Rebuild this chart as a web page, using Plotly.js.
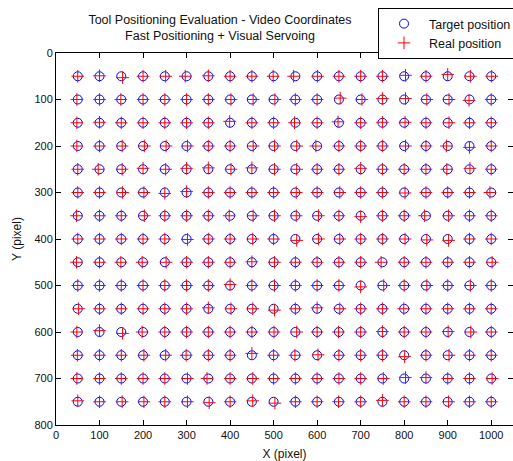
<!DOCTYPE html>
<html><head><meta charset="utf-8">
<script src="https://cdn.plot.ly/plotly-3.0.1.min.js"></script>
<style>html,body{margin:0;padding:0;background:#fff}#chart{width:513px;height:461px}</style>
</head><body><div id="chart"></div>
<script>
// Target grid (pixel coordinates)
const gridX = [50,100,150,200,250,300,350,400,450,500,550,600,650,700,750,800,850,900,950,1000];
const gridY = [50,100,150,200,250,300,350,400,450,500,550,600,650,700,750];

// Measured deviation of the real position from the target (pixels), one row per gridY
const devX = [
 [0,0,3,0,2,-3,0,0,0,-1,-4,1,0,0,0,3,0,0,2,1],
 [-2,0,-1,0,0,0,0,2,3,3,0,0,3,3,0,3,2,3,-1,0],
 [-2,0,0,0,0,0,0,-1,0,0,-2,0,-2,0,0,2,0,3,0,0],
 [-2,0,2,3,3,2,0,0,3,2,3,-3,0,0,0,3,0,-3,0,0],
 [0,-3,2,0,2,0,0,2,0,2,3,0,0,0,0,0,0,-2,1,0],
 [0,0,3,2,0,0,0,0,0,0,2,0,2,0,0,2,0,0,0,-3],
 [-3,0,0,3,0,0,0,-2,3,2,2,3,0,0,0,0,-3,2,0,0],
 [0,0,0,0,0,2,0,0,2,0,3,3,2,0,0,2,2,2,0,0],
 [-3,0,-1,-2,3,0,0,0,0,2,0,0,0,0,-3,0,0,0,0,2],
 [0,0,0,0,0,0,0,0,0,2,0,0,0,0,3,0,2,0,2,0],
 [2,0,0,0,0,0,0,2,2,2,0,0,2,0,0,-1,0,0,0,0],
 [-2,0,3,-2,0,0,0,0,0,1,3,0,-1,0,0,0,0,1,3,0],
 [-1,0,0,2,2,-1,0,0,0,0,-1,2,0,0,0,1,0,3,0,0],
 [-2,0,0,0,0,2,-3,0,2,0,0,0,0,0,2,3,0,0,0,2],
 [0,0,2,2,0,2,2,0,2,3,0,0,-1,0,0,0,0,2,0,0]
];
const devY = [
 [0,-1,3,0,0,0,-1,0,0,0,0,0,0,0,0,-2,0,-4,0,0],
 [0,0,0,0,0,0,0,0,0,0,0,0,-3,0,-2,-2,0,0,2,0],
 [0,-1,0,0,0,0,0,-3,0,0,0,0,-2,0,-1,-1,0,0,0,0],
 [0,0,0,0,0,0,0,0,0,0,0,0,0,0,0,0,0,0,3,0],
 [0,0,0,-2,0,-2,-3,0,-3,0,0,0,0,-2,0,0,0,0,-2,0],
 [0,0,0,0,2,-2,0,0,0,0,0,0,0,0,0,1,0,0,0,0],
 [0,0,0,0,0,0,0,0,0,0,0,0,0,2,0,0,0,0,0,0],
 [0,0,0,0,0,1,0,0,0,0,3,0,0,0,0,0,2,3,0,0],
 [0,0,0,0,0,0,0,0,-1,0,0,0,0,0,0,0,0,0,0,0],
 [0,0,0,0,0,0,0,-2,0,0,0,0,0,3,0,0,0,0,0,0],
 [0,0,0,0,0,0,-2,0,0,3,0,-2,0,0,0,0,0,0,0,0],
 [0,-3,3,0,0,0,0,0,0,0,0,0,0,0,-1,0,0,-1,0,0],
 [0,0,0,0,0,0,0,0,-4,0,0,-1,0,0,0,3,0,0,0,0],
 [0,0,0,0,0,0,0,0,0,0,0,0,0,0,0,-2,-2,0,0,0],
 [-2,0,0,0,0,0,2,0,-2,3,0,0,0,0,-3,0,0,0,0,0]
];

const xTicks = [0,100,200,300,400,500,600,700,800,900,1000];
const yTicks = [0,100,200,300,400,500,600,700,800];

const tx=[],ty=[],rx=[],ry=[];
gridY.forEach((y,i)=>gridX.forEach((x,j)=>{
  tx.push(x); ty.push(y);
  rx.push(x+devX[i][j]); ry.push(y+devY[i][j]);
}));

const FONT = "Liberation Sans, Arial, sans-serif";
const traces = [
  {x:tx,y:ty,mode:'markers',type:'scatter',name:'Target position',
   marker:{symbol:'circle-open',size:9,color:'#0000ff',line:{width:1,color:'#0000ff'}}},
  {x:rx,y:ry,mode:'markers',type:'scatter',name:'Real position',
   marker:{symbol:'cross-thin-open',size:9,color:'#ff0000',line:{width:1,color:'#ff0000'}}}
];
const axisBase = {showgrid:false,zeroline:false,showline:true,linecolor:'#000',linewidth:1,
  mirror:'ticks',ticks:'inside',ticklen:5,tickcolor:'#000',tickwidth:1,
  tickfont:{family:FONT,size:11,color:'#111'}};
const layout = {
  width:513,height:461,paper_bgcolor:'#fff',plot_bgcolor:'#fff',
  margin:{l:56,r:0,t:53,b:36,autoexpand:false},
  font:{family:FONT,size:11,color:'#111'},
  title:{text:'Tool Positioning Evaluation - Video Coordinates<br>Fast Positioning + Visual Servoing',
    x:220/513,xref:'container',xanchor:'center',y:1-24/461,yref:'container',yanchor:'top',
    font:{family:FONT,size:12.5,color:'#111'}},
  xaxis:Object.assign({},axisBase,{range:[0,1050],tickvals:xTicks,automargin:false,
    title:{text:'X (pixel)',font:{family:FONT,size:12,color:'#111'},standoff:9}}),
  yaxis:Object.assign({},axisBase,{range:[800,0],tickvals:yTicks,automargin:false,
    title:{text:'Y (pixel)',font:{family:FONT,size:12,color:'#111'},standoff:10}}),
  showlegend:true,
  legend:{x:(378-56)/457,xanchor:'left',y:(425-8)/372,yanchor:'top',
    bgcolor:'#fff',bordercolor:'#000',borderwidth:1,itemwidth:40,
    font:{family:FONT,size:12.5,color:'#111'},tracegroupgap:0}
};
Plotly.newPlot('chart',traces,layout,{displayModeBar:false,staticPlot:true});
</script></body></html>
